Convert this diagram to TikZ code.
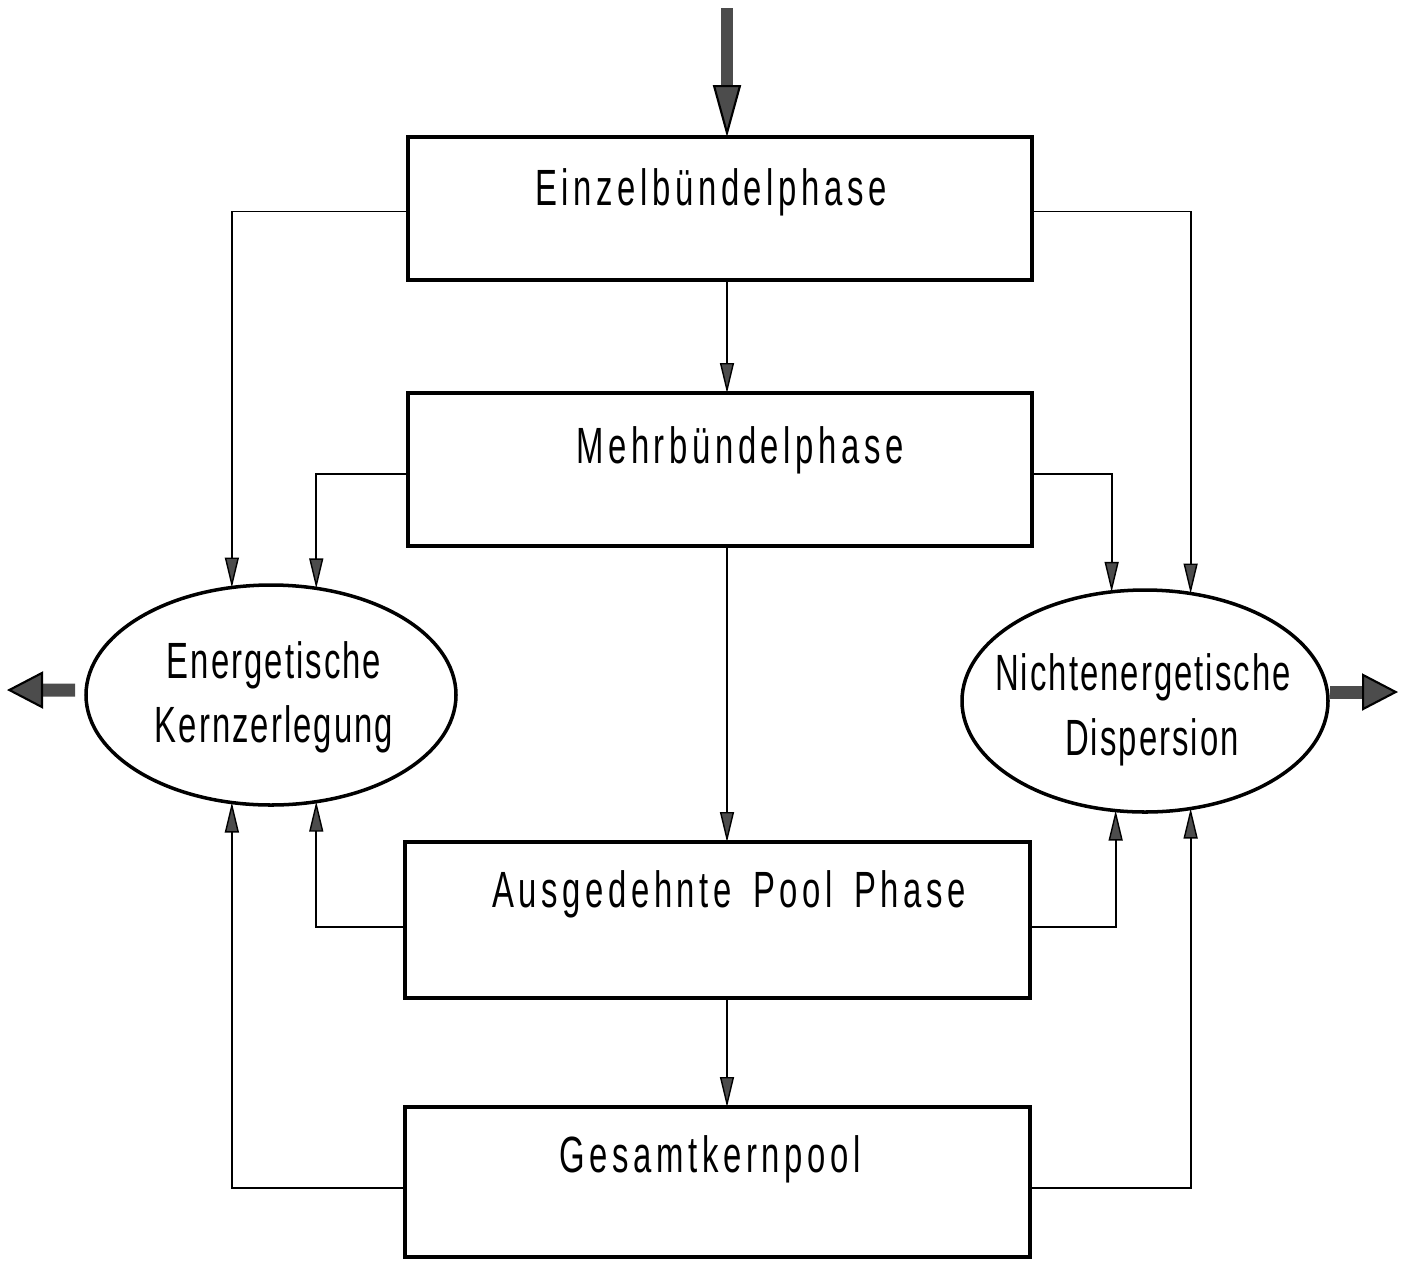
\documentclass[tikz,border=0pt]{standalone}
\usepackage{fontspec}
\setmainfont[FakeStretch=0.645,LetterSpace=9]{Liberation Sans}
\newfontfamily\ovalfont[FakeStretch=0.645,LetterSpace=4]{Liberation Sans}
\usetikzlibrary{arrows.meta,shapes.geometric,calc}
\begin{document}
\begin{tikzpicture}[x=1cm,y=1cm,
  box/.style={draw, line width=1.1pt, rectangle, inner sep=0pt, outer sep=0pt},
  oval/.style={draw, line width=1pt, ellipse, inner sep=0pt, outer sep=0pt},
  lbl/.style={font=\fontsize{14.5}{16}\selectfont, anchor=base, inner sep=0pt},
  olbl/.style={font=\fontsize{14.5}{16}\ovalfont, anchor=base, inner sep=0pt},
  link/.style={line width=0.5pt,
    -{Triangle[length=0.3cm,width=0.14cm,fill=black!70,line width=0.4pt]}},
  fatdown/.style={draw=black!70, line width=0.12cm,
    -{Triangle[length=0.52cm,width=0.28cm,fill=black!70,color=black,line width=0.6pt]}},
  fatside/.style={draw=black!70, line width=0.13cm,
    -{Triangle[length=0.36cm,width=0.37cm,fill=black!70,color=black,line width=0.6pt]}}
]
\useasboundingbox (0,0) rectangle (14.03,-12.61);

% process stages
\node[box, minimum width=6.24cm, minimum height=1.43cm] (einzel) at (7.20,-2.085) {};
\node[box, minimum width=6.24cm, minimum height=1.53cm] (mehr)   at (7.20,-4.695) {};
\node[box, minimum width=6.25cm, minimum height=1.56cm] (pool)   at (7.175,-9.20) {};
\node[box, minimum width=6.25cm, minimum height=1.50cm] (gesamt) at (7.175,-11.82) {};

\node[lbl] (einzelT) at (7.11,-2.05) {Einzelbündelphase};
\node[lbl] (mehrT)   at (7.40,-4.63) {Mehrbündelphase};
\node[lbl] (poolT)   at (7.29,-9.07) {Ausgedehnte\hspace{0.15em} Pool\hspace{0.15em} Phase};
\node[lbl] (gesamtT) at (7.10,-11.72) {Gesamtkernpool};

% outcomes
\node[oval, minimum width=3.70cm, minimum height=2.20cm] (energ) at (2.71,-6.95) {};
\node[oval, minimum width=3.66cm, minimum height=2.22cm] (nicht) at (11.45,-7.01) {};

\node[olbl] (energT1) at (2.74,-6.78) {Energetische};
\node[olbl] (energT2) at (2.74,-7.42) {Kernzerlegung};
\node[olbl] (nichtT1) at (11.43,-6.90) {Nichtenergetische};
\node[olbl] (nichtT2) at (11.52,-7.55) {Dispersion};

% main flow
\coordinate (inTop) at (7.27,-0.08);
\draw[fatdown] (inTop) -- ([xshift=0.07cm]einzel.north);
\draw[link] ([xshift=0.07cm]einzel.south) -- ([xshift=0.07cm]mehr.north);
\draw[link] ([xshift=0.07cm]mehr.south) -- ([xshift=0.095cm]pool.north);
\draw[link] ([xshift=0.095cm]pool.south) -- ([xshift=0.095cm]gesamt.north);

% branches to the outcomes
\draw[link] ([yshift=-0.03cm]einzel.west) -| (energ.110);
\draw[link] ([yshift=-0.045cm]mehr.west) -| (energ.67);
\draw[link] ([yshift=-0.03cm]einzel.east) -| (nicht.67);
\draw[link] ([yshift=-0.045cm]mehr.east) -| (nicht.107);
\draw[link] ([yshift=-0.07cm]pool.west) -| (energ.293);
\draw[link] ([yshift=-0.07cm]pool.east) -| (nicht.255);
\draw[link] ([yshift=-0.06cm]gesamt.west) -| (energ.250);
\draw[link] ([yshift=-0.06cm]gesamt.east) -| (nicht.293);

% outgoing streams
\coordinate (outL) at (0.07,-6.90);
\coordinate (outR) at (13.98,-6.92);
\draw[fatside] ([xshift=-0.11cm,yshift=0.05cm]energ.west) -- (outL);
\draw[fatside] ([xshift=0.02cm,yshift=0.09cm]nicht.east) -- (outR);
\end{tikzpicture}
\end{document}
